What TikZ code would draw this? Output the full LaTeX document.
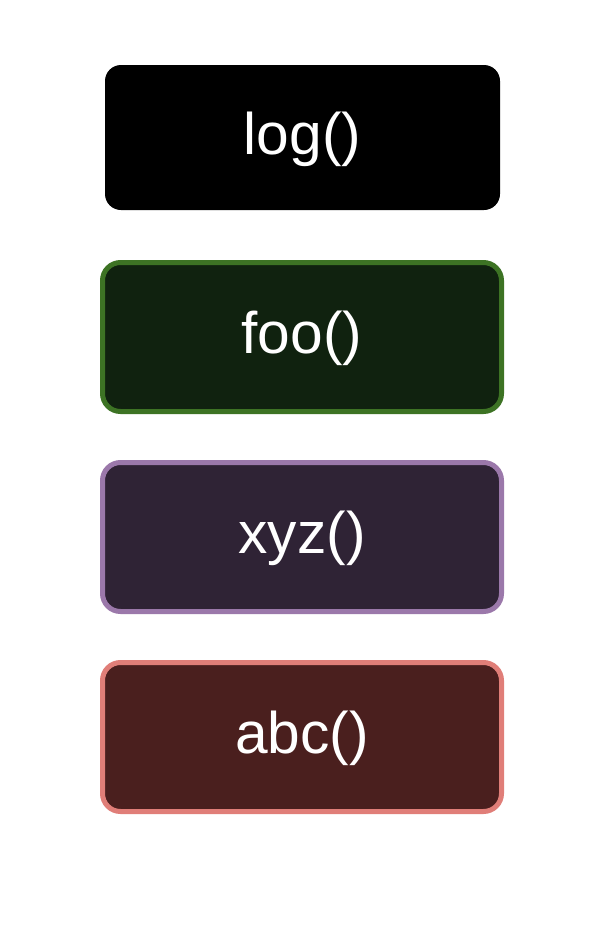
\documentclass[tikz,border=0pt]{standalone}
\usepackage{fontspec}
\setmainfont{Liberation Sans}
\definecolor{gfill}{RGB}{16,34,15}
\definecolor{gline}{RGB}{61,115,36}
\definecolor{pfill}{RGB}{47,35,53}
\definecolor{pline}{RGB}{155,120,170}
\definecolor{rfill}{RGB}{74,31,30}
\definecolor{rline}{RGB}{224,126,120}
\tikzset{
  px/.style={x=0.75pt,y=-0.75pt},
  fnbox/.style={rectangle,rounded corners=13.5pt,inner sep=0pt,text=white,
    minimum width=299.25pt,minimum height=111.75pt,line width=3.75pt,
    text height=33pt,text depth=8pt,
    font=\fontsize{44}{52}\selectfont},
  logbox/.style={fnbox,fill=black,rounded corners=12pt,
    minimum width=296.25pt,minimum height=108.75pt}
}

\begin{document}
\begin{tikzpicture}[px]
    \useasboundingbox (0,0) rectangle (615,925);
    \node[logbox] (log) at (302.5,137.5) {log()};
    \node[fnbox,fill=gfill,draw=gline] (foo) at (302,337) {foo()};
    \node[fnbox,fill=pfill,draw=pline] (xyz) at (302,537) {xyz()};
    \node[fnbox,fill=rfill,draw=rline] (abc) at (302,737) {abc()};
\end{tikzpicture}
\end{document}
